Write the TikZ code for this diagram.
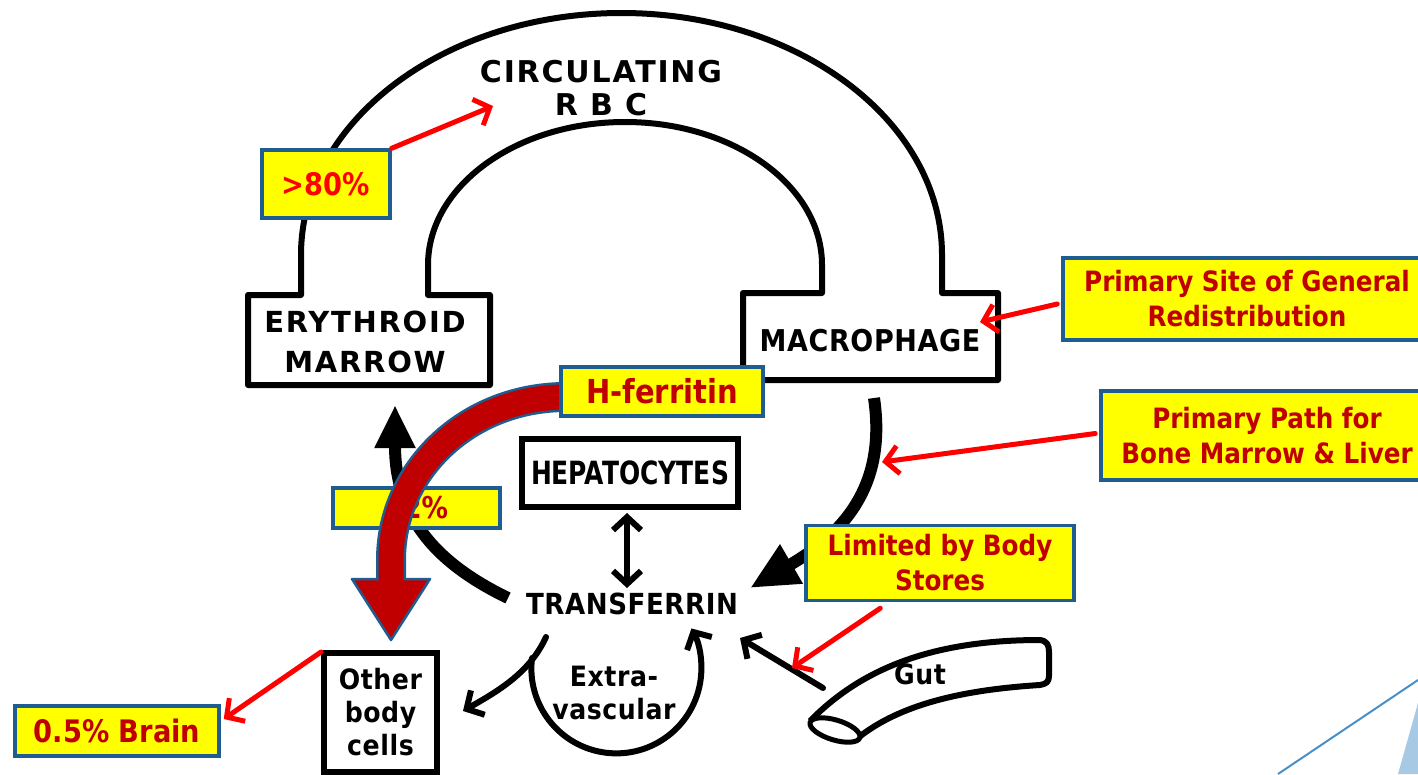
\documentclass[tikz,border=0pt]{standalone}
\usepackage{fontspec}
\setmainfont{DejaVu Sans}
\newfontfamily\diafont[LetterSpace=6]{DejaVu Sans}
\newfontfamily\diafontn[LetterSpace=2,FakeStretch=0.9]{DejaVu Sans}
\newfontfamily\lowfont[LetterSpace=2,FakeStretch=0.9]{DejaVu Sans}
\newfontfamily\boxfont[FakeStretch=0.88]{DejaVu Sans}
\newfontfamily\hepfont[FakeStretch=0.78]{DejaVu Sans}
\usetikzlibrary{arrows.meta,calc}
\definecolor{boxblue}{RGB}{31,92,143}
\definecolor{darkred}{RGB}{192,0,0}
\definecolor{pured}{RGB}{255,0,0}
\definecolor{boxyellow}{RGB}{255,255,0}
\definecolor{decoblue}{RGB}{74,144,200}
\definecolor{decolight}{RGB}{168,201,228}
\tikzset{
  ybox/.style={draw=boxblue, line width=3.5pt, fill=boxyellow, text=darkred,
    font=\boxfont\bfseries\fontsize{28pt}{35pt}\selectfont, align=center, inner sep=0pt},
  lbl/.style={font=\diafont\bfseries\fontsize{30pt}{40pt}\selectfont, align=center, inner sep=0pt},
  lowlbl/.style={font=\lowfont\bfseries\fontsize{28pt}{33pt}\selectfont, align=center, inner sep=0pt},
  redarr/.style={draw=pured, line width=5pt, line cap=round,
    -{Straight Barb[length=13pt,width=28pt]}},
  blkthick/.style={draw=black, line width=12pt},
  blkthin/.style={draw=black, line width=6pt, line cap=round,
    -{Straight Barb[length=13pt,width=28pt]}},
}
\begin{document}
\begin{tikzpicture}[x=1pt,y=-1pt]
\useasboundingbox (0,0) rectangle (1418,774);
\fill[white] (0,0) rectangle (1418,774);
\begin{scope}
\clip (0,0) rectangle (1418,774);

% decoration bottom right
\fill[decolight] (1418,703) -- (1398,774) -- (1418,774) -- cycle;
\draw[decoblue, line width=2pt] (1278,774) -- (1418,680);

% arches with the two boxes
\draw[line width=6pt, line join=round]
  (428,295) -- (490,295) -- (490,385) -- (248,385) -- (248,295) -- (301,295) -- (301,255)
  arc[start angle=180, end angle=0, x radius=320.5pt, y radius=242pt]
  -- (942,293) -- (998,293) -- (998,380) -- (743,380) -- (743,293) -- (822,293) -- (822,265)
  arc[start angle=0, end angle=180, x radius=197pt, y radius=143pt] -- cycle;

% black texts
\node[lbl, font=\diafont\bfseries\fontsize{30pt}{33pt}\selectfont] (circ) at (601,88) {CIRCULATING\\R B C};
\node[lbl, font=\diafont\bfseries\fontsize{29pt}{40pt}\selectfont] (erythroid) at (365,342) {ERYTHROID\\MARROW};
\node[lbl, font=\diafontn\bfseries\fontsize{30pt}{40pt}\selectfont] (macrophage) at (870,341) {MACROPHAGE};
\node[draw, line width=6pt, minimum width=216pt, minimum height=68pt, inner sep=0pt,
  font=\hepfont\bfseries\fontsize{32pt}{36pt}\selectfont] (hepat) at (630,473) {HEPATOCYTES};
\node[lbl, font=\diafontn\bfseries\fontsize{29pt}{32pt}\selectfont] (transf) at (632,604) {TRANSFERRIN};
\node[draw, line width=6pt, minimum width=113pt, minimum height=119pt, lowlbl] (other) at (380.5,712.5) {Other\\body\\cells};
\node[lowlbl] (extra) at (614,693) {Extra-\\vascular};

% gut tube
\draw[line width=6pt, line join=round]
  (810,721) .. controls (860,670) and (930,640) .. (1040,640)
  .. controls (1047,641) and (1049,645) .. (1049,652) -- (1049,676)
  .. controls (1049,682) and (1046,684) .. (1040,685)
  .. controls (960,690) and (900,705) .. (859,737);
\draw[line width=5pt, rotate around={-17:(835,730)}] (835,730) ellipse[x radius=26pt, y radius=10pt];
\node[lowlbl] (gut) at (920,674) {Gut};

% named end points
\coordinate (eryStart) at (508,598);
\coordinate (eryTip) at (395,405);
\coordinate (macStart) at (874,398);
\coordinate (macTip) at (750,588);
\coordinate (hepLow) at (627,513);
\coordinate (trUp) at (627,588);
\coordinate (trLow) at (546,637);
\coordinate (othTip) at (463,711);
\coordinate (loopStart) at (532,658);
\coordinate (gutEnd) at (823,688);
\coordinate (gutTip) at (740,638);

% black arrows
\draw[blkthick, -{Triangle[length=43pt,width=38pt]}] (eryStart) .. controls (440,565) and (395,520) .. (eryTip);
\draw[blkthick, -{Triangle[length=48pt,width=42pt]}] (macStart) .. controls (886,480) and (850,530) .. (macTip);
\draw[line width=6pt, line cap=round, {Straight Barb[length=13pt,width=28pt]}-{Straight Barb[length=13pt,width=28pt]}] (hepLow) -- (trUp);
\draw[blkthin] (trLow) .. controls (530,672) and (500,690) .. (othTip);
\draw[blkthin] (loopStart) arc[start angle=173, end angle=388, radius=85pt];
\draw[blkthin] (gutEnd) -- (gutTip);

% 62% box (under the red arrow)
\node[ybox, minimum width=167pt, minimum height=40pt, font=\boxfont\bfseries\fontsize{30pt}{35pt}\selectfont] (b62) at (416.5,508) {62\%};

% H-ferritin block arrow
\coordinate (bandStart) at (566,397);
\coordinate (bandTip) at (391,640);
\draw[boxblue, line width=30pt] (bandStart) .. controls (468,397) and (391,470) .. (391,560) -- (391,579);
\fill[darkred, draw=boxblue, line width=2.5pt, line join=round] (352,579) -- (430,579) -- (bandTip) -- cycle;
\draw[darkred, line width=25pt] (bandStart) .. controls (468,397) and (391,470) .. (391,560) -- (391,582);

% yellow boxes
\node[ybox, minimum width=202pt, minimum height=49pt, font=\boxfont\bfseries\fontsize{33pt}{35pt}\selectfont] (hferr) at (662,391.5) {H-ferritin};
\node[ybox, minimum width=128pt, minimum height=68pt, text=pured, font=\boxfont\bfseries\fontsize{31pt}{35pt}\selectfont] (b80) at (326,184) {>80\%};
\node[ybox, minimum width=368pt, minimum height=82pt] (sitebox) at (1247,299) {Primary Site of General\\Redistribution};
\node[ybox, minimum width=332pt, minimum height=89pt] (pathbox) at (1267,435.5) {Primary Path for\\Bone Marrow \& Liver};
\node[ybox, minimum width=268pt, minimum height=75pt] (limbox) at (940,563) {Limited by Body\\Stores};
\node[ybox, minimum width=204pt, minimum height=50pt, font=\boxfont\bfseries\fontsize{31pt}{35pt}\selectfont] (brainbox) at (117,731) {0.5\% Brain};

% red pointer arrows
\coordinate (rbcTip) at (493,106);
\coordinate (macPt) at (980,322);
\coordinate (pathPt) at (882,462);
\coordinate (gutPt) at (792,668);
\draw[redarr] (b80.north east) -- (rbcTip);
\draw[redarr] ($(sitebox.west)+(-4,5)$) -- (macPt);
\draw[redarr] ($(pathbox.west)+(-4,-2)$) -- (pathPt);
\draw[redarr] ($(limbox.south west)!0.28!(limbox.south east)+(0,6)$) -- (gutPt);
\draw[redarr] ($(other.north west)+(0,2)$) -- ($(brainbox.east)+(3,-12)$);
\end{scope}
\end{tikzpicture}
\end{document}
